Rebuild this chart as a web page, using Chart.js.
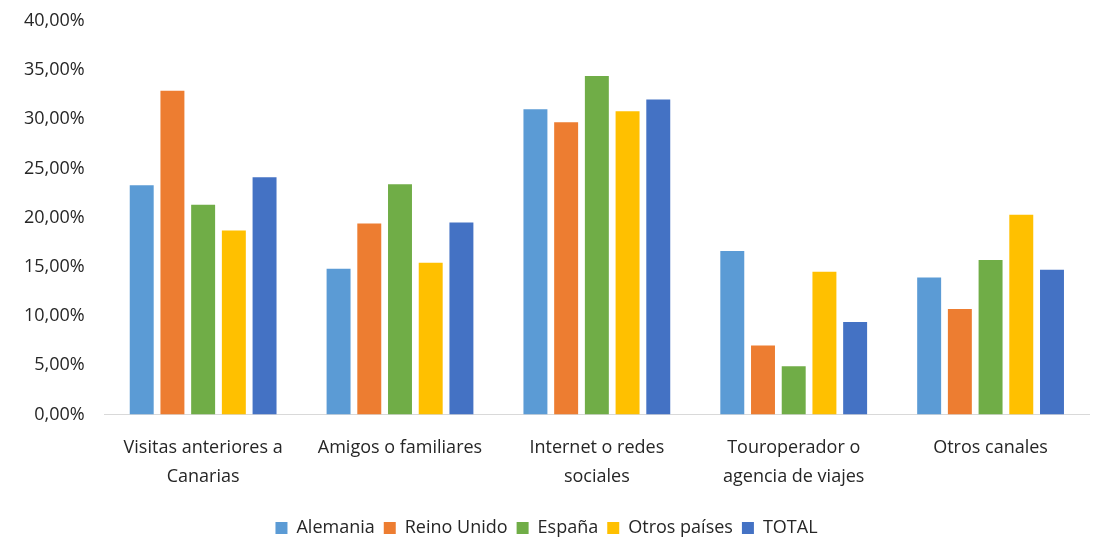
<!DOCTYPE html>
<html>
<head>
<meta charset="utf-8">
<script src="https://cdn.jsdelivr.net/npm/chart.js@4.4.0/dist/chart.umd.min.js"></script>
<style>
  html, body { margin: 0; padding: 0; background: #fff; overflow: hidden; }
  #wrap { width: 1093px; height: 557px; margin-top: -10px; }
</style>
</head>
<body>
<div id="wrap"><canvas id="chart"></canvas></div>
<script>
// Datos del gráfico
const categories = [
  ["Visitas anteriores a", "Canarias"],
  "Amigos o familiares",
  ["Internet o redes", "sociales"],
  ["Touroperador o", "agencia de viajes"],
  "Otros canales"
];
const alemania = [23.3, 14.8, 31.0, 16.6, 13.9];
const reinoUnido = [32.9, 19.4, 29.7, 7.0, 10.7];
const espana = [21.3, 23.4, 34.4, 4.9, 15.7];
const otrosPaises = [18.7, 15.4, 30.8, 14.5, 20.3];
const total = [24.1, 19.5, 32.0, 9.4, 14.7];
const seriesNames = ["Alemania", "Reino Unido", "España", "Otros países", "TOTAL"];
const seriesColors = ["#5B9BD5", "#ED7D31", "#70AD47", "#FFC000", "#4472C4"];

const font = "'Open Sans', sans-serif";
const textColor = "#262626";

function makeDataset(i, values) {
  return {
    label: seriesNames[i],
    data: values,
    backgroundColor: seriesColors[i],
    borderWidth: 0,
    categoryPercentage: 0.78,
    barPercentage: 0.78,
  };
}

const ctx = document.getElementById("chart").getContext("2d");
new Chart(ctx, {
  type: "bar",
  data: {
    labels: categories,
    datasets: [
      makeDataset(0, alemania),
      makeDataset(1, reinoUnido),
      makeDataset(2, espana),
      makeDataset(3, otrosPaises),
      makeDataset(4, total),
    ],
  },
  options: {
    responsive: true,
    maintainAspectRatio: false,
    animation: false,
    layout: { padding: { left: 4, right: 4, top: 0, bottom: 0 } },
    plugins: {
      legend: {
        position: "bottom",
        labels: {
          boxWidth: 12,
          boxHeight: 12,
          padding: 9,
          color: textColor,
          font: { family: font, size: 18 },
        },
      },
      tooltip: { enabled: false },
    },
    scales: {
      x: {
        grid: { display: false, drawTicks: false },
        border: { display: true, color: "#D9D9D9", width: 1 },
        ticks: {
          color: textColor,
          font: { family: font, size: 18, lineHeight: 1.6 },
          padding: 19,
          maxRotation: 0,
          autoSkip: false,
        },
      },
      y: {
        min: 0,
        max: 40,
        grid: { display: false, drawTicks: false },
        border: { display: false },
        ticks: {
          stepSize: 5,
          padding: 20,
          color: textColor,
          font: { family: font, size: 18 },
          callback: (v) => v.toFixed(2).replace(".", ",") + "%",
        },
      },
    },
  },
});
</script>
</body>
</html>
